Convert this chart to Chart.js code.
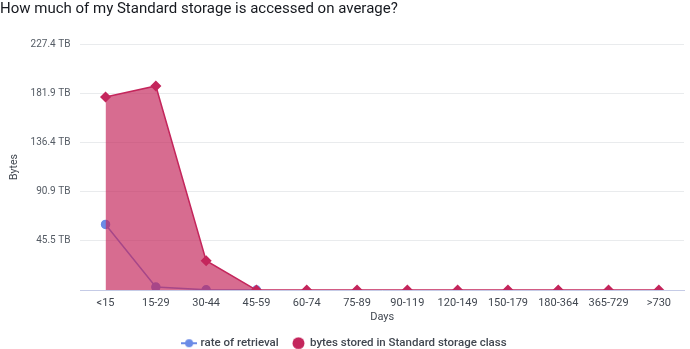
<html lang="en">
<head>
    <meta charset="UTF-8">
    <title>Standard storage access</title>
    <script src="https://cdn.jsdelivr.net/npm/chart.js"></script>
    <style>
        body { margin: 0; background: #fff; }
        #wrap { width: 690px; height: 349px; position: relative; }
    </style>
</head>
<body>
    <div id="wrap"><canvas id="myChart" width="690" height="349"></canvas></div>

    <script>
        // day buckets on the x axis
        const days = ['<15', '15-29', '30-44', '45-59', '60-74', '75-89', '90-119', '120-149', '150-179', '180-364', '365-729', '>730'];

        // TB values
        const retrieval = [60.7, 2.8, 0.3, 0, null, null, null, null, null, null, null, null];
        const bytesStored = [178.4, 188.6, 27.1, 0, 0, 0, 0, 0, 0, 0, 0, 0];

        // y ticks
        const yTickValues = [0, 45.48, 90.96, 136.44, 181.92, 227.4];
        const yTickLabels = ['', '45.5 TB', '90.9 TB', '136.4 TB', '181.9 TB', '227.4 TB'];

        const blue = '#6b8be6';
        const red = '#c4265c';
        const fontFam = 'Roboto, "Open Sans", sans-serif';

        // legend icons
        function lineIcon() {
            let c = document.createElement('canvas');
            c.width = 16; c.height = 10;
            let g = c.getContext('2d');
            g.strokeStyle = blue; g.lineWidth = 2;
            g.beginPath(); g.moveTo(0, 5); g.lineTo(16, 5); g.stroke();
            g.fillStyle = blue;
            g.beginPath(); g.arc(8, 5, 4, 0, Math.PI * 2); g.fill();
            return c;
        }
        function dotIcon() {
            let c = document.createElement('canvas');
            c.width = 13; c.height = 13;
            let g = c.getContext('2d');
            g.fillStyle = red;
            g.beginPath(); g.arc(6.5, 6.5, 6, 0, Math.PI * 2); g.fill();
            return c;
        }

        let ctx = document.getElementById('myChart').getContext('2d');
        let myChart = new Chart(ctx, {
            type: 'line',
            data: {
                labels: days,
                datasets: [
                    {
                        label: 'rate of retrieval',
                        data: retrieval,
                        borderColor: blue,
                        backgroundColor: blue,
                        borderWidth: 1.5,
                        pointRadius: 4,
                        pointStyle: 'circle',
                        fill: false,
                        order: 1
                    },
                    {
                        label: 'bytes stored in Standard storage class',
                        data: bytesStored,
                        borderColor: red,
                        backgroundColor: 'rgba(196,38,92,0.68)',
                        pointBackgroundColor: red,
                        borderWidth: 1.5,
                        pointRadius: 4.5,
                        pointStyle: 'rectRot',
                        fill: 'origin',
                        order: 0
                    }
                ]
            },
            options: {
                responsive: false,
                animation: false,
                layout: { padding: { left: 0, right: 0, top: 0, bottom: -10 } },
                plugins: {
                    tooltip: { enabled: false },
                    title: {
                        display: true,
                        text: 'How much of my Standard storage is accessed on average?',
                        align: 'start',
                        color: '#16191f',
                        font: { family: fontFam, size: 15, weight: 'normal' },
                        padding: { top: 0, bottom: 26 }
                    },
                    legend: {
                        position: 'bottom',
                        labels: {
                            color: '#414750',
                            font: { family: fontFam, size: 11.5, weight: '500' },
                            usePointStyle: true,
                            padding: 14,
                            boxHeight: 12,
                            generateLabels: function () {
                                return [
                                    { text: 'rate of retrieval', pointStyle: lineIcon(), fillStyle: blue, strokeStyle: blue, lineWidth: 0, datasetIndex: 0, fontColor: '#414750' },
                                    { text: 'bytes stored in Standard storage class', pointStyle: dotIcon(), fillStyle: red, strokeStyle: red, lineWidth: 0, datasetIndex: 1, fontColor: '#414750' }
                                ];
                            }
                        }
                    }
                },
                scales: {
                    x: {
                        offset: true,
                        grid: { display: false, drawTicks: false },
                        border: { display: true, color: '#c5cbe6', width: 1 },
                        ticks: { color: '#414750', font: { family: fontFam, size: 11 }, padding: 7, maxRotation: 0, autoSkip: false },
                        title: { display: true, text: 'Days', color: '#414750', font: { family: fontFam, size: 11 }, padding: { top: -7, bottom: 0 } }
                    },
                    y: {
                        min: 0,
                        max: 227.4,
                        afterBuildTicks: function (axis) {
                            axis.ticks = yTickValues.map(v => ({ value: v }));
                        },
                        grid: { color: '#e9ebed', drawTicks: false },
                        border: { display: false },
                        ticks: {
                            color: '#545b64',
                            font: { family: fontFam, size: 10 },
                            padding: 10,
                            callback: function (v, i) { return yTickLabels[i]; }
                        },
                        title: { display: true, text: 'Bytes', color: '#414750', font: { family: fontFam, size: 10.5 }, padding: { top: 8, bottom: 0 } }
                    }
                }
            }
        });
    </script>
</body>
</html>
